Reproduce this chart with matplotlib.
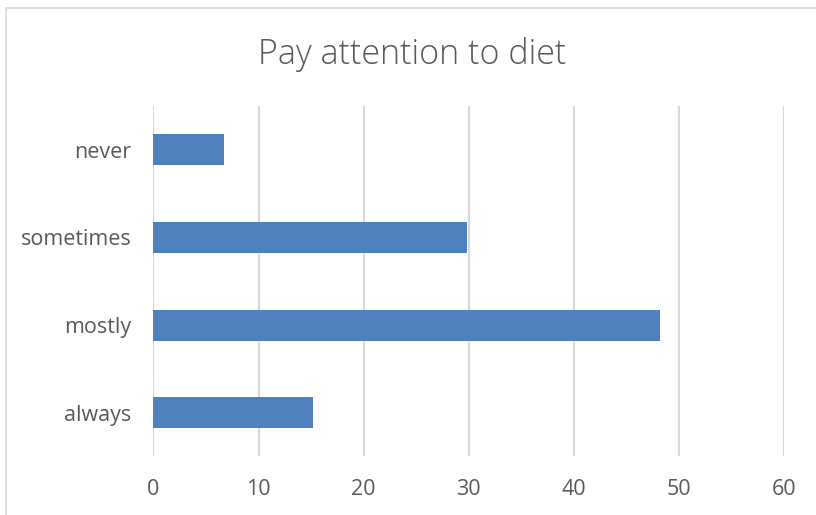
import matplotlib
matplotlib.use('Agg')
import matplotlib.pyplot as plt
from matplotlib.patches import Rectangle

categories = ['always', 'mostly', 'sometimes', 'never']
values = [15.2, 48.2, 29.8, 6.7]
x_ticks = [0, 10, 20, 30, 40, 50, 60]

plt.rcParams['font.family'] = ['Open Sans', 'DejaVu Sans']

fig = plt.figure(figsize=(8.16, 5.15), dpi=100)
ax = fig.add_axes([0.1881, 0.1136, 0.7727, 0.6804])

ax.barh(range(len(categories)), values, height=0.354, color='#4f81bd', zorder=3)

ax.set_xlim(0, 60)
ax.set_ylim(-0.5, len(categories) - 0.5)
ax.set_xticks(x_ticks)
ax.set_yticks(range(len(categories)))
ax.set_yticklabels(categories)
ax.grid(axis='x', color='#d9d9d9', linewidth=1.5, zorder=0)
ax.tick_params(length=0, labelsize=15.5, labelcolor='#595959')
ax.tick_params(axis='x', pad=16)
ax.tick_params(axis='y', pad=16)
for s in ax.spines.values():
    s.set_visible(False)

fig.text(0.505, 0.895, 'Pay attention to diet', ha='center', va='center',
         fontsize=24.5, color='#595959', fontweight='light')

# chart border
fig.patches.append(Rectangle((6 / 816, -0.1), 1.2, (515 - 8) / 515 + 0.1,
                             transform=fig.transFigure, fill=False,
                             edgecolor='#d9d9d9', linewidth=1.2))

fig.savefig('out.png', dpi=100)
